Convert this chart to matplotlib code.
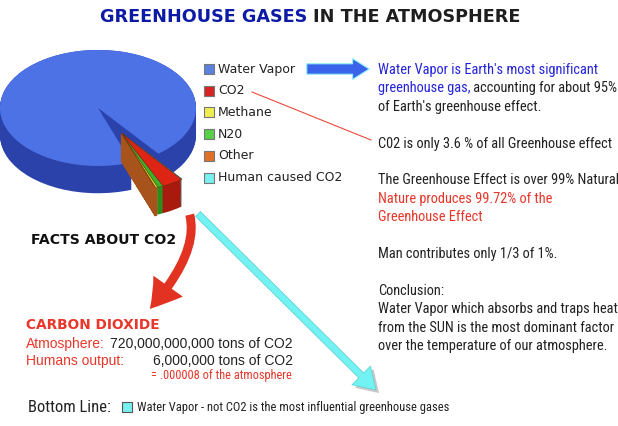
import matplotlib.pyplot as plt
from matplotlib.patches import FancyArrowPatch
from matplotlib import font_manager as fm
import numpy as np

# pie slices, counter-clockwise starting at the cut-out piece
gases = ["Other", "Methane", "N20", "CO2", "Human caused CO2", "Water Vapor"]
shares = [0.072, 0.36, 0.95, 3.501, 0.117, 95.0]
top_colors = ["#c0601f", "#e8e22c", "#3fae2a", "#de2414", "#6ee8f0", "#4c72e6"]
side_colors = ["#a8521c", "#b8b020", "#2f8a20", "#a81a0e", "#48b8c0", "#2a42aa"]

legend_labels = ["Water Vapor", "CO2", "Methane", "N20", "Other", "Human caused CO2"]
legend_colors = ["#5a80e0", "#d82424", "#eeee50", "#58d048", "#e07028", "#78f0f0"]

BLUE = "#2424dc"
RED = "#e8372a"
DARK = "#222222"

notes = [
    [("Water Vapor is Earth's most significant", BLUE)],
    [("greenhouse gas,", BLUE), (" accounting for about 95%", DARK)],
    [("of Earth's greenhouse effect.", DARK)],
    [],
    [("C02 is only 3.6 % of all Greenhouse effect", DARK)],
    [],
    [("The Greenhouse Effect is over 99% Natural", DARK)],
    [("Nature produces 99.72% of the", RED)],
    [("Greenhouse Effect", RED)],
    [],
    [("Man contributes only 1/3 of 1%.", DARK)],
    [],
    [("Conclusion:", DARK)],
    [("Water Vapor which absorbs and traps heat", DARK)],
    [("from the SUN is the most dominant factor", DARK)],
    [("over the temperature of our atmosphere.", DARK)],
]


def pick(names):
    for nm in names:
        try:
            fm.findfont(fm.FontProperties(family=nm), fallback_to_default=False)
            return nm
        except ValueError:
            pass
    return "DejaVu Sans"


NARROW = pick(["Liberation Sans Narrow", "Roboto Condensed", "Arial Narrow", "Liberation Sans"])
ARIAL = pick(["Liberation Sans", "DejaVu Sans"])

fig = plt.figure(figsize=(6.18, 4.26), dpi=100)
ax = fig.add_axes([0, 0, 1, 1], zorder=2)
ax.set_xlim(0, 618)
ax.set_ylim(426, 0)
ax.axis("off")
renderer = fig.canvas.get_renderer()


def fit(txt, width, **kw):
    # font size that makes txt about `width` pixels wide
    t = ax.text(0, 0, txt, fontsize=10, **kw)
    w = t.get_window_extent(renderer).width
    t.remove()
    return 10 * width / w


# ---- 3D-looking pie ----
pax = fig.add_axes([0, (426 - 232) / 426, 222 / 618, 192 / 426], zorder=1)
start = -70
thick = 0.47
mid = np.deg2rad(start + 180 * sum(shares[:5]) / sum(shares))
off = 0.5 * np.array([np.cos(mid), np.sin(mid)])
wp = dict(linewidth=0)

main_side = ["none"] * 5 + [side_colors[5]]
main_top = ["none"] * 5 + [top_colors[5]]
cut_side = side_colors[:5] + ["none"]
cut_front = [side_colors[0]] + ["none"] * 5
cut_top = top_colors[:5] + ["none"]

for dz in np.linspace(-thick, 0, 30):
    pax.pie(shares, colors=main_side, startangle=start, center=(0, dz), wedgeprops=wp)
pax.pie(shares, colors=main_top, startangle=start, center=(0, 0), wedgeprops=wp)
for dz in np.linspace(-thick, 0, 30):
    c = (off[0], off[1] + dz)
    pax.pie(shares, colors=cut_side, startangle=start, center=c, wedgeprops=wp)
    wf, _ = pax.pie(shares, colors=cut_front, startangle=start, center=c,
                    wedgeprops=dict(linewidth=1.6, edgecolor=side_colors[0]))
    for w in wf[1:]:
        w.set_edgecolor("none")
wt, _ = pax.pie(shares, colors=cut_top, startangle=start, center=(off[0], off[1]),
                wedgeprops=dict(linewidth=0.3, edgecolor="#5a3010"))
wt[-1].set_edgecolor("none")
pax.set_aspect("auto")
pax.set_xlim(-1.0, -1.0 + 222 / 98)
pax.set_ylim(1.172 - 192 / 58, 1.172)

# ---- title ----
ts = fit("GREENHOUSE GASES", 207, fontweight="heavy")
ax.text(307, 17, "GREENHOUSE GASES", ha="right", va="center",
        fontsize=ts, fontweight="heavy", color="#0c1aa6")
ax.text(313, 17, "IN THE ATMOSPHERE", ha="left", va="center",
        fontsize=ts, fontweight="heavy", color="#1e1e1e")

# ---- legend ----
for i, (lab, col) in enumerate(zip(legend_labels, legend_colors)):
    y = 69 + i * 21.7
    ax.scatter([209], [y], marker="s", s=45, color=col, edgecolor="#777777", linewidth=0.8)
    ax.text(218, y, lab, ha="left", va="center", fontsize=9, color=DARK)

# ---- right column notes ----
ns = fit("C02 is only 3.6 % of all Greenhouse effect", 234, family=NARROW)
for i, segs in enumerate(notes):
    y = 70 + 18.4 * i
    prev = None
    for txt, col in segs:
        if prev is None:
            prev = ax.text(378, y, txt, ha="left", va="center", fontsize=ns,
                           family=NARROW, color=col)
        else:
            prev = ax.annotate(txt, xy=(1, 0), xycoords=prev, ha="left", va="bottom",
                               fontsize=ns, family=NARROW, color=col)

# ---- arrows / lines ----
ax.add_patch(FancyArrowPatch((304, 69), (372, 69),
                             arrowstyle="simple,head_width=15,head_length=12,tail_width=7.5",
                             mutation_scale=1, color="#3a62ea", ec="#8ef0f8", lw=0.8))
ax.plot([252, 371], [92, 140], color="#e84a3a", lw=0.8)
ax.add_patch(FancyArrowPatch((189, 212), (148, 311),
                             connectionstyle="angle3,angleA=-73,angleB=48",
                             arrowstyle="simple,head_width=26,head_length=21,tail_width=6.5",
                             mutation_scale=1, color="#e23222", lw=0))
ax.add_patch(FancyArrowPatch((199, 215), (381, 395),
                             arrowstyle="simple,head_width=19,head_length=15,tail_width=5",
                             mutation_scale=1, color="#9a9a9a", alpha=0.55, lw=0))
ax.add_patch(FancyArrowPatch((196, 212), (378, 392),
                             arrowstyle="simple,head_width=19,head_length=15,tail_width=5",
                             mutation_scale=1, color="#72f2f2", ec="#5cd0d0", lw=0.5))

# ---- facts ----
fs = fit("FACTS ABOUT CO2", 146, fontweight="heavy")
ax.text(31, 240, "FACTS ABOUT CO2", ha="left", va="center", fontsize=fs,
        fontweight="heavy", color="#111111")
ax.text(26, 325, "CARBON DIOXIDE", ha="left", va="center",
        fontsize=fit("CARBON DIOXIDE", 134, fontweight="heavy"),
        fontweight="heavy", color=RED)
ns2 = fit("720,000,000,000 tons of CO2", 182, family=ARIAL)
ax.text(26, 344, "Atmosphere:", ha="left", va="center", fontsize=ns2,
        family=ARIAL, color=RED)
ax.text(293, 344, "720,000,000,000 tons of CO2", ha="right", va="center", fontsize=ns2,
        family=ARIAL, color=DARK)
ax.text(26, 361, "Humans output:", ha="left", va="center", fontsize=ns2,
        family=ARIAL, color=RED)
ax.text(293, 361, "6,000,000 tons of CO2", ha="right", va="center", fontsize=ns2,
        family=ARIAL, color=DARK)
ax.text(292, 375, "= .000008 of the atmosphere", ha="right", va="center",
        fontsize=fit("= .000008 of the atmosphere", 140, family=NARROW),
        family=NARROW, color=RED)

# ---- bottom line ----
ax.text(28, 407, "Bottom Line:", ha="left", va="center",
        fontsize=fit("Bottom Line:", 82, family=NARROW), family=NARROW, color=DARK)
ax.scatter([126.5], [407], marker="s", s=50, color="#78f0f0", edgecolor="#555555", linewidth=0.8)
bt = "Water Vapor - not CO2 is the most influential greenhouse gases"
ax.text(137, 407, bt, ha="left", va="center", fontsize=fit(bt, 310, family=NARROW),
        family=NARROW, color=DARK)

fig.savefig("out.png", dpi=100)
